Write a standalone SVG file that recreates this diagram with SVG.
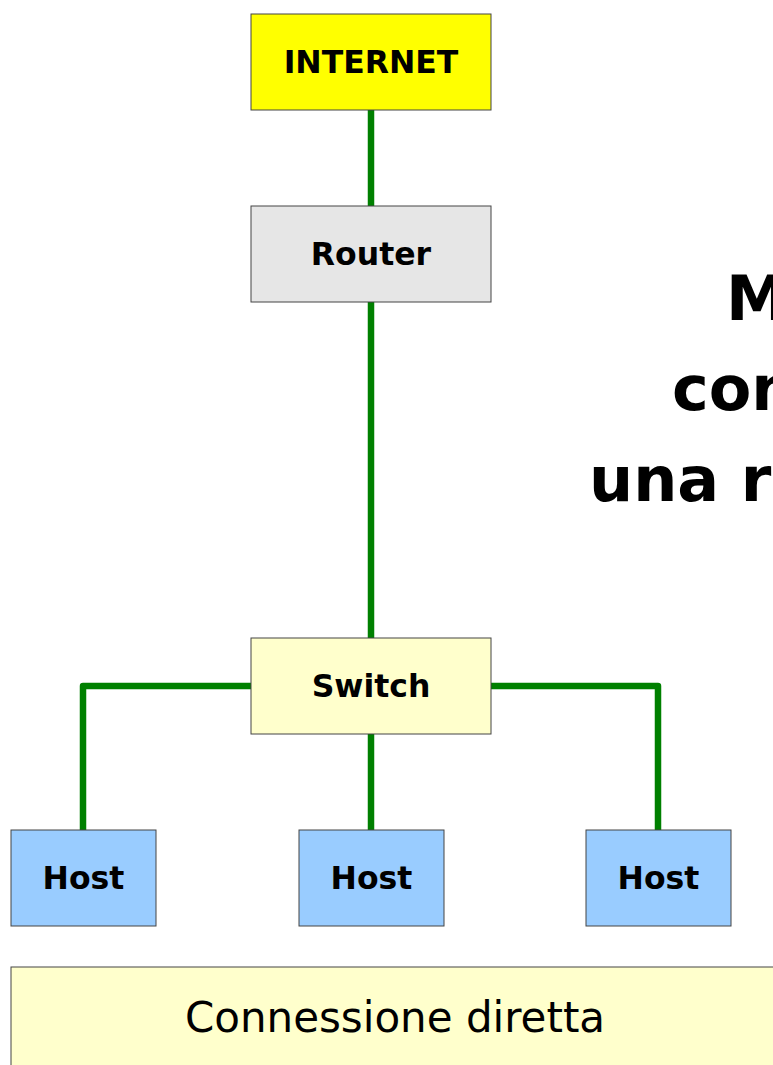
<svg xmlns="http://www.w3.org/2000/svg" width="773" height="1065" viewBox="0 0 773 1065">
<style>
.box{stroke:#444;stroke-width:1}
.lbl{font-family:"DejaVu Sans",sans-serif;font-weight:bold;font-size:31.5px;text-anchor:middle;fill:#000}
.big{font-family:"DejaVu Sans",sans-serif;font-weight:bold;font-size:62px;fill:#000}
.wire{fill:none;stroke:#008000;stroke-width:6.5;stroke-linejoin:round}
</style>
<rect width="773" height="1065" fill="#fff"/>
<g id="connectors">
<path class="wire" d="M371 110 V206"/>
<path class="wire" d="M371 302 V638"/>
<path class="wire" d="M251 686 H83 V830"/>
<path class="wire" d="M491 686 H658 V830"/>
<path class="wire" d="M371 734 V830"/>
</g>
<g id="internet"><rect class="box" x="251" y="14" width="240" height="96" fill="#ffff00"/><text class="lbl" x="371" y="73">INTERNET</text></g>
<g id="router"><rect class="box" x="251" y="206" width="240" height="96" fill="#e6e6e6"/><text class="lbl" x="371" y="265">Router</text></g>
<g id="switch"><rect class="box" x="251" y="638" width="240" height="96" fill="#ffffcc"/><text class="lbl" x="371" y="697">Switch</text></g>
<g id="host1"><rect class="box" x="11" y="830" width="145" height="96" fill="#99ccff"/><text class="lbl" x="83.5" y="889">Host</text></g>
<g id="host2"><rect class="box" x="299" y="830" width="145" height="96" fill="#99ccff"/><text class="lbl" x="371.5" y="889">Host</text></g>
<g id="host3"><rect class="box" x="586" y="830" width="145" height="96" fill="#99ccff"/><text class="lbl" x="658.5" y="889">Host</text></g>
<g id="title">
<text class="big" x="726" y="320">M</text>
<text class="big" x="672" y="410">con</text>
<text class="big" x="589" y="501">una r</text>
</g>
<g id="legend"><rect class="box" x="11" y="967" width="768" height="140" fill="#ffffcc"/><text x="395" y="1032" font-family="DejaVu Sans, sans-serif" font-size="42" text-anchor="middle" fill="#000">Connessione diretta</text></g>
</svg>
